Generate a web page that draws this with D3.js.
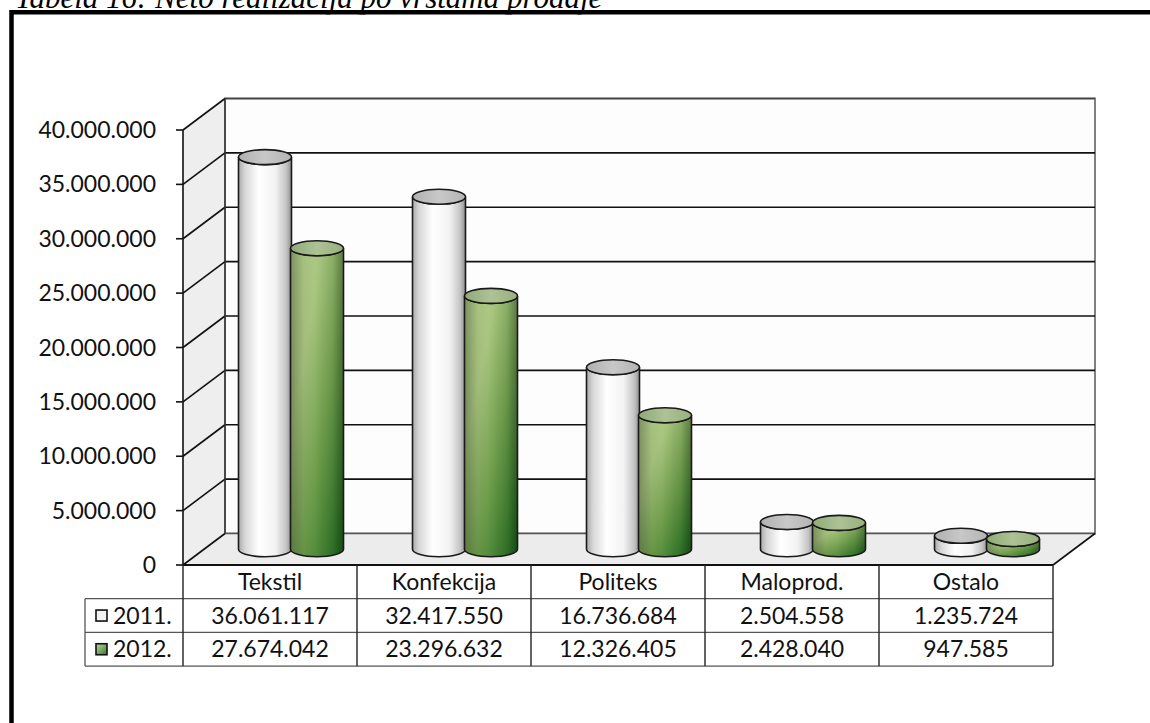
<!DOCTYPE html>
<html>
<head>
<meta charset="utf-8">
<script src="https://cdn.jsdelivr.net/npm/d3@7"></script>
<style>
  html, body { margin: 0; padding: 0; background: #fff; }
  svg { display: block; }
</style>
</head>
<body>
<svg id="chart" width="1150" height="723"></svg>
<script>
// Neto realizacija po vrstama prodaje, 2011. i 2012.
const categories = ["Tekstil", "Konfekcija", "Politeks", "Maloprod.", "Ostalo"];
const seriesNames = ["2011.", "2012."];
const values2011 = [36061117, 32417550, 16736684, 2504558, 1235724];
const values2012 = [27674042, 23296632, 12326405, 2428040, 947585];
const yTicks = [0, 5000000, 10000000, 15000000, 20000000, 25000000, 30000000, 35000000, 40000000];
const titleText = "Tabela 16: Neto realizacija po vrstama prodaje";

const seriesValues = [values2011, values2012];

const svg = d3.select("#chart");
const FONT = "Lato, 'Open Sans', sans-serif";

// number format with dot as thousands separator
const locale = d3.formatLocale({ decimal: ",", thousands: ".", grouping: [3], currency: ["", ""] });
const fmt = locale.format(",d");

// plot geometry (front plane) and depth offset of the 3D box
const plotLeft = 183, plotRight = 1053, plotTop = 130, plotBottom = 565;
const DX = 42, DY = -31.5;

const x = d3.scaleBand().domain(categories).range([plotLeft, plotRight]).paddingInner(0).paddingOuter(0);
const y = d3.scaleLinear().domain([0, 40000000]).range([plotBottom, plotTop]);
const xs = d3.scaleBand().domain(seriesNames).range([35, x.bandwidth() - 35]);

// ---------- defs: gradients ----------
const defs = svg.append("defs");

const gWhite = defs.append("linearGradient").attr("id", "gradWhite")
  .attr("x1", 0).attr("y1", 0).attr("x2", 1).attr("y2", 0);
[[0, "#a9a9a9"], [0.12, "#d6d6d6"], [0.38, "#ffffff"], [0.7, "#f2f2f2"], [0.9, "#c4c4c4"], [1, "#8f8f8f"]]
  .forEach(([o, c]) => gWhite.append("stop").attr("offset", o).attr("stop-color", c));

const gGreen = defs.append("linearGradient").attr("id", "gradGreen")
  .attr("x1", 0).attr("y1", 0).attr("x2", 1).attr("y2", 1);
[[0, "#b4d08c"], [0.3, "#a9c67f"], [0.6, "#6f9e4c"], [1, "#1a661a"]]
  .forEach(([o, c]) => gGreen.append("stop").attr("offset", o).attr("stop-color", c));

// side shading laid over the green body
const gShade = defs.append("linearGradient").attr("id", "gradShade")
  .attr("x1", 0).attr("y1", 0).attr("x2", 1).attr("y2", 0);
[[0, "rgba(0,0,0,0.30)"], [0.25, "rgba(0,0,0,0.05)"], [0.45, "rgba(0,0,0,0)"], [0.8, "rgba(0,0,0,0.05)"], [1, "rgba(0,0,0,0.28)"]]
  .forEach(([o, c]) => gShade.append("stop").attr("offset", o).attr("stop-color", c));

const gTopWhite = defs.append("linearGradient").attr("id", "gradTopWhite")
  .attr("x1", 0).attr("y1", 0).attr("x2", 1).attr("y2", 0);
[[0, "#b0b0b0"], [0.5, "#c8c8c8"], [1, "#b4b4b4"]]
  .forEach(([o, c]) => gTopWhite.append("stop").attr("offset", o).attr("stop-color", c));

const gTopGreen = defs.append("linearGradient").attr("id", "gradTopGreen")
  .attr("x1", 0).attr("y1", 0).attr("x2", 1).attr("y2", 0);
[[0, "#8fab76"], [0.5, "#adc296"], [1, "#98b07e"]]
  .forEach(([o, c]) => gTopGreen.append("stop").attr("offset", o).attr("stop-color", c));

const gLegendGreen = defs.append("linearGradient").attr("id", "gradLegendGreen")
  .attr("x1", 0).attr("y1", 0).attr("x2", 1).attr("y2", 1);
[[0, "#bcd89a"], [1, "#3c7d2c"]]
  .forEach(([o, c]) => gLegendGreen.append("stop").attr("offset", o).attr("stop-color", c));

// ---------- title (page caption, partly above the top edge) and frame ----------
svg.append("text")
  .attr("x", 15).attr("y", 8)
  .attr("font-family", "'Liberation Serif', 'DejaVu Serif', serif")
  .attr("font-style", "italic")
  .attr("font-size", 31)
  .attr("fill", "#000")
  .text(titleText);

svg.append("rect")
  .attr("x", 14).attr("y", 14.5).attr("width", 1136).attr("height", 708.5)
  .attr("fill", "#fff");

svg.append("path")
  .attr("d", "M11.5,723 L11.5,12.3 L1150,12.3")
  .attr("fill", "none").attr("stroke", "#000").attr("stroke-width", 4.5);

// ---------- 3D box: side wall, back wall, floor ----------
const box = svg.append("g");
const yTop = y(40000000), y0 = y(0);

box.append("path") // side wall
  .attr("d", `M${plotLeft},${yTop} L${plotLeft + DX},${yTop + DY} L${plotLeft + DX},${y0 + DY} L${plotLeft},${y0} Z`)
  .attr("fill", "#eeeeee").attr("stroke", "none");

box.append("rect") // back wall
  .attr("x", plotLeft + DX).attr("y", yTop + DY)
  .attr("width", plotRight - plotLeft).attr("height", y0 - yTop)
  .attr("fill", "#fdfdfd").attr("stroke", "#808080").attr("stroke-width", 2);

box.append("path") // floor
  .attr("d", `M${plotLeft},${y0} L${plotLeft + DX},${y0 + DY} L${plotRight + DX},${y0 + DY} L${plotRight},${y0} Z`)
  .attr("fill", "#ececec").attr("stroke", "none");

// gridlines on back wall and side wall
const grid = svg.append("g");
yTicks.forEach(t => {
  const yf = y(t);
  grid.append("line")
    .attr("x1", plotLeft).attr("y1", yf).attr("x2", plotLeft + DX).attr("y2", yf + DY)
    .attr("stroke", "#111").attr("stroke-width", 1.6);
  grid.append("line")
    .attr("x1", plotLeft + DX).attr("y1", yf + DY).attr("x2", plotRight + DX).attr("y2", yf + DY)
    .attr("stroke", t === 0 ? "#555" : (t === 40000000 ? "#444" : "#111")).attr("stroke-width", 1.6);
});
// back wall vertical left edge
grid.append("line")
  .attr("x1", plotLeft + DX).attr("y1", yTop + DY).attr("x2", plotLeft + DX).attr("y2", y0 + DY)
  .attr("stroke", "#333").attr("stroke-width", 1.4);
// floor right edge
grid.append("line")
  .attr("x1", plotRight).attr("y1", y0).attr("x2", plotRight + DX).attr("y2", y0 + DY)
  .attr("stroke", "#111").attr("stroke-width", 1.6);

// ---------- y axis ----------
const axis = svg.append("g");
axis.append("line")
  .attr("x1", plotLeft).attr("y1", yTop).attr("x2", plotLeft).attr("y2", y0)
  .attr("stroke", "#111").attr("stroke-width", 1.6);
yTicks.forEach(t => {
  axis.append("line")
    .attr("x1", plotLeft - 7).attr("y1", y(t)).attr("x2", plotLeft).attr("y2", y(t))
    .attr("stroke", "#111").attr("stroke-width", 1.6);
  axis.append("text")
    .attr("x", 156).attr("y", y(t))
    .attr("dy", "0.35em")
    .attr("text-anchor", "end")
    .attr("font-family", FONT).attr("font-size", 23).attr("fill", "#111")
    .text(fmt(t));
});

// ---------- cylinders ----------
const rx = 26.5, ry = 7.5;
const bars = svg.append("g");
categories.forEach((cat, ci) => {
  seriesNames.forEach((s, si) => {
    const v = seriesValues[si][ci];
    const cx = x(cat) + xs(s) + xs.bandwidth() / 2 + DX / 2;
    const yt = y(v) + DY / 2;
    const yb = y(0) + DY / 2;
    const body = `M${cx - rx},${yt} L${cx - rx},${yb} A${rx},${ry} 0 0 0 ${cx + rx},${yb} L${cx + rx},${yt} A${rx},${ry} 0 0 1 ${cx - rx},${yt} Z`;
    const g = bars.append("g");
    g.append("path").attr("d", body)
      .attr("fill", si === 0 ? "url(#gradWhite)" : "url(#gradGreen)");
    if (si === 1) {
      g.append("path").attr("d", body).attr("fill", "url(#gradShade)");
    }
    g.append("path").attr("d", body)
      .attr("fill", "none").attr("stroke", "#1a1a1a").attr("stroke-width", 1.6);
    g.append("ellipse")
      .attr("cx", cx).attr("cy", yt).attr("rx", rx).attr("ry", ry)
      .attr("fill", si === 0 ? "url(#gradTopWhite)" : "url(#gradTopGreen)")
      .attr("stroke", "#1a1a1a").attr("stroke-width", 1.6);
  });
});

// ---------- data table ----------
const rowH = 33.7;
const tbl = svg.append("g");
const rowTop = [y0, y0 + rowH, y0 + 2 * rowH, y0 + 3 * rowH];
const legendLeft = 85;
const TFS = 23;

// horizontal rules
tbl.append("line").attr("x1", plotLeft).attr("x2", plotRight).attr("y1", rowTop[0]).attr("y2", rowTop[0])
  .attr("stroke", "#111").attr("stroke-width", 2);
[1, 2, 3].forEach(r => {
  tbl.append("line").attr("x1", legendLeft).attr("x2", plotRight).attr("y1", rowTop[r]).attr("y2", rowTop[r])
    .attr("stroke", "#555").attr("stroke-width", 1.3);
});
// vertical rules
categories.forEach(c => {
  tbl.append("line").attr("x1", x(c)).attr("x2", x(c)).attr("y1", rowTop[0]).attr("y2", rowTop[3])
    .attr("stroke", "#222").attr("stroke-width", 1.4);
});
tbl.append("line").attr("x1", plotRight).attr("x2", plotRight).attr("y1", rowTop[0]).attr("y2", rowTop[3])
  .attr("stroke", "#222").attr("stroke-width", 1.4);
tbl.append("line").attr("x1", legendLeft).attr("x2", legendLeft).attr("y1", rowTop[1]).attr("y2", rowTop[3])
  .attr("stroke", "#555").attr("stroke-width", 1.3);

// category labels
categories.forEach(c => {
  tbl.append("text")
    .attr("x", x(c) + x.bandwidth() / 2).attr("y", (rowTop[0] + rowTop[1]) / 2)
    .attr("dy", "0.35em").attr("text-anchor", "middle")
    .attr("font-family", FONT).attr("font-size", TFS).attr("fill", "#111")
    .text(c);
});

// series rows: legend key, name, values
seriesNames.forEach((s, si) => {
  const ym = (rowTop[si + 1] + rowTop[si + 2]) / 2;
  tbl.append("rect")
    .attr("x", 96).attr("y", ym - 5.5).attr("width", 11).attr("height", 11)
    .attr("fill", si === 0 ? "#f2f2f2" : "url(#gradLegendGreen)")
    .attr("stroke", "#111").attr("stroke-width", 1.6);
  tbl.append("text")
    .attr("x", 113).attr("y", ym).attr("dy", "0.35em")
    .attr("font-family", FONT).attr("font-size", TFS).attr("fill", "#111")
    .text(s);
  categories.forEach((c, ci) => {
    tbl.append("text")
      .attr("x", x(c) + x.bandwidth() / 2).attr("y", ym).attr("dy", "0.35em")
      .attr("text-anchor", "middle")
      .attr("font-family", FONT).attr("font-size", TFS).attr("fill", "#111")
      .text(fmt(seriesValues[si][ci]));
  });
});
</script>
</body>
</html>
